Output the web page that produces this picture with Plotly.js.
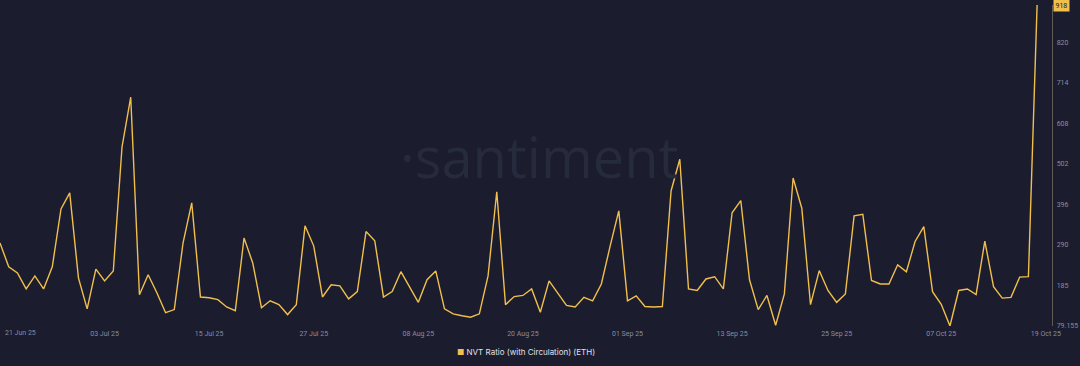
<!DOCTYPE html>
<html>
<head>
<meta charset="utf-8">
<script src="https://cdn.plot.ly/plotly-3.0.1.min.js"></script>
<style>
html,body{margin:0;padding:0;background:#1b1c2e;}
#chart{width:1080px;height:366px;}
</style>
</head>
<body>
<div id="chart"></div>
<script>
const startDate = '2025-06-21';
const seriesName = 'NVT Ratio (with Circulation) (ETH)';
const nvtValues = [
  296, 234, 218, 176, 210, 176, 234, 385, 427, 205,
  124, 228, 197, 223, 547, 677, 161, 213, 166, 114,
  122, 296, 401, 155, 153, 148, 129, 119, 309, 244,
  127, 145, 135, 109, 135, 341, 288, 155, 187, 184,
  150, 169, 326, 302, 155, 169, 221, 182, 141, 200,
  223, 124, 111, 106, 102, 111, 210, 430, 135, 156,
  159, 176, 115, 197, 166, 133, 129, 154, 145, 189,
  287, 380, 145, 158, 130, 129, 130, 432, 515, 176,
  172, 202, 208, 176, 375, 407, 200, 122, 159, 81,
  163, 466, 387, 135, 224, 172, 141, 163, 367, 371,
  198, 189, 189, 239, 221, 300, 339, 169, 136, 79.155,
  172, 176, 161, 301, 182, 152, 154, 207, 208, 918
];
const xTickDates = ['2025-07-03','2025-07-15','2025-07-27','2025-08-08','2025-08-20','2025-09-01','2025-09-13','2025-09-25','2025-10-07','2025-10-19'];
const xTickLabels = ['03 Jul 25','15 Jul 25','27 Jul 25','08 Aug 25','20 Aug 25','01 Sep 25','13 Sep 25','25 Sep 25','07 Oct 25','19 Oct 25'];
const firstTickLabel = '21 Jun 25';
const yTickVals = [79.155, 185, 290.9, 396.7, 502.6, 608.4, 714.3, 820.2];
const yTickText = ['79.155','185','290','396','502','608','714','820'];
const yMin = 79.155, yMax = 918;

const dates = nvtValues.map((v, i) => {
  const d = new Date(startDate + 'T00:00:00Z');
  d.setUTCDate(d.getUTCDate() + i);
  return d.toISOString().slice(0, 10);
});

const gold = '#f0bf4c';
const tickColor = '#8a8ea0';

const trace = {
  x: dates, y: nvtValues, type: 'scatter', mode: 'lines',
  line: {color: gold, width: 1.4}, name: seriesName, hoverinfo: 'x+y'
};

const layout = {
  width: 1080, height: 366,
  paper_bgcolor: '#1b1c2e', plot_bgcolor: '#1b1c2e',
  margin: {l: 0, r: 28, t: 5, b: 40},
  showlegend: false,
  font: {family: 'Roboto, Arial, sans-serif', color: tickColor, size: 7},
  xaxis: {
    type: 'date',
    range: ['2025-06-21', '2025-10-19 17:00'],
    showgrid: false, zeroline: false, showline: false,
    tickmode: 'array', tickvals: xTickDates, ticktext: xTickLabels,
    tickfont: {size: 7, color: tickColor}, ticks: '', ticklabelstandoff: 2
  },
  yaxis: {
    side: 'right', range: [yMin, yMax],
    showgrid: false, zeroline: false,
    showline: true, linecolor: '#5e5b55', linewidth: 1.3,
    tickmode: 'array', tickvals: yTickVals, ticktext: yTickText,
    tickfont: {size: 7, color: tickColor}, ticks: '', ticklabelstandoff: 2
  },
  annotations: [
    {x: 0.513, y: 0.53, xref: 'paper', yref: 'paper', text: '·santiment', showarrow: false,
     font: {family: 'Open Sans, sans-serif', size: 56, color: '#262a3d'}, xanchor: 'center', yanchor: 'middle'},
    {x: 1, xref: 'paper', xshift: 1, y: yMax, yref: 'y', text: String(yMax), showarrow: false,
     xanchor: 'left', yanchor: 'middle', bgcolor: gold, borderpad: 1.5,
     font: {size: 7, color: '#1b1c2e'}},
    {x: startDate, xref: 'x', y: 0, yref: 'paper', yshift: -7, xshift: 3, text: firstTickLabel, showarrow: false,
     xanchor: 'left', yanchor: 'middle', font: {size: 7, color: tickColor}},
    {x: 0.5, xref: 'paper', y: 0, yref: 'paper', yshift: -26, text: '<span style="color:' + gold + '">■</span> ' + seriesName,
     showarrow: false, xanchor: 'center', yanchor: 'middle', font: {family: 'Inter, Roboto, sans-serif', size: 8, color: '#e0e1e8'}}
  ]
};

Plotly.newPlot('chart', [trace], layout, {displayModeBar: false, staticPlot: true});
</script>
</body>
</html>
